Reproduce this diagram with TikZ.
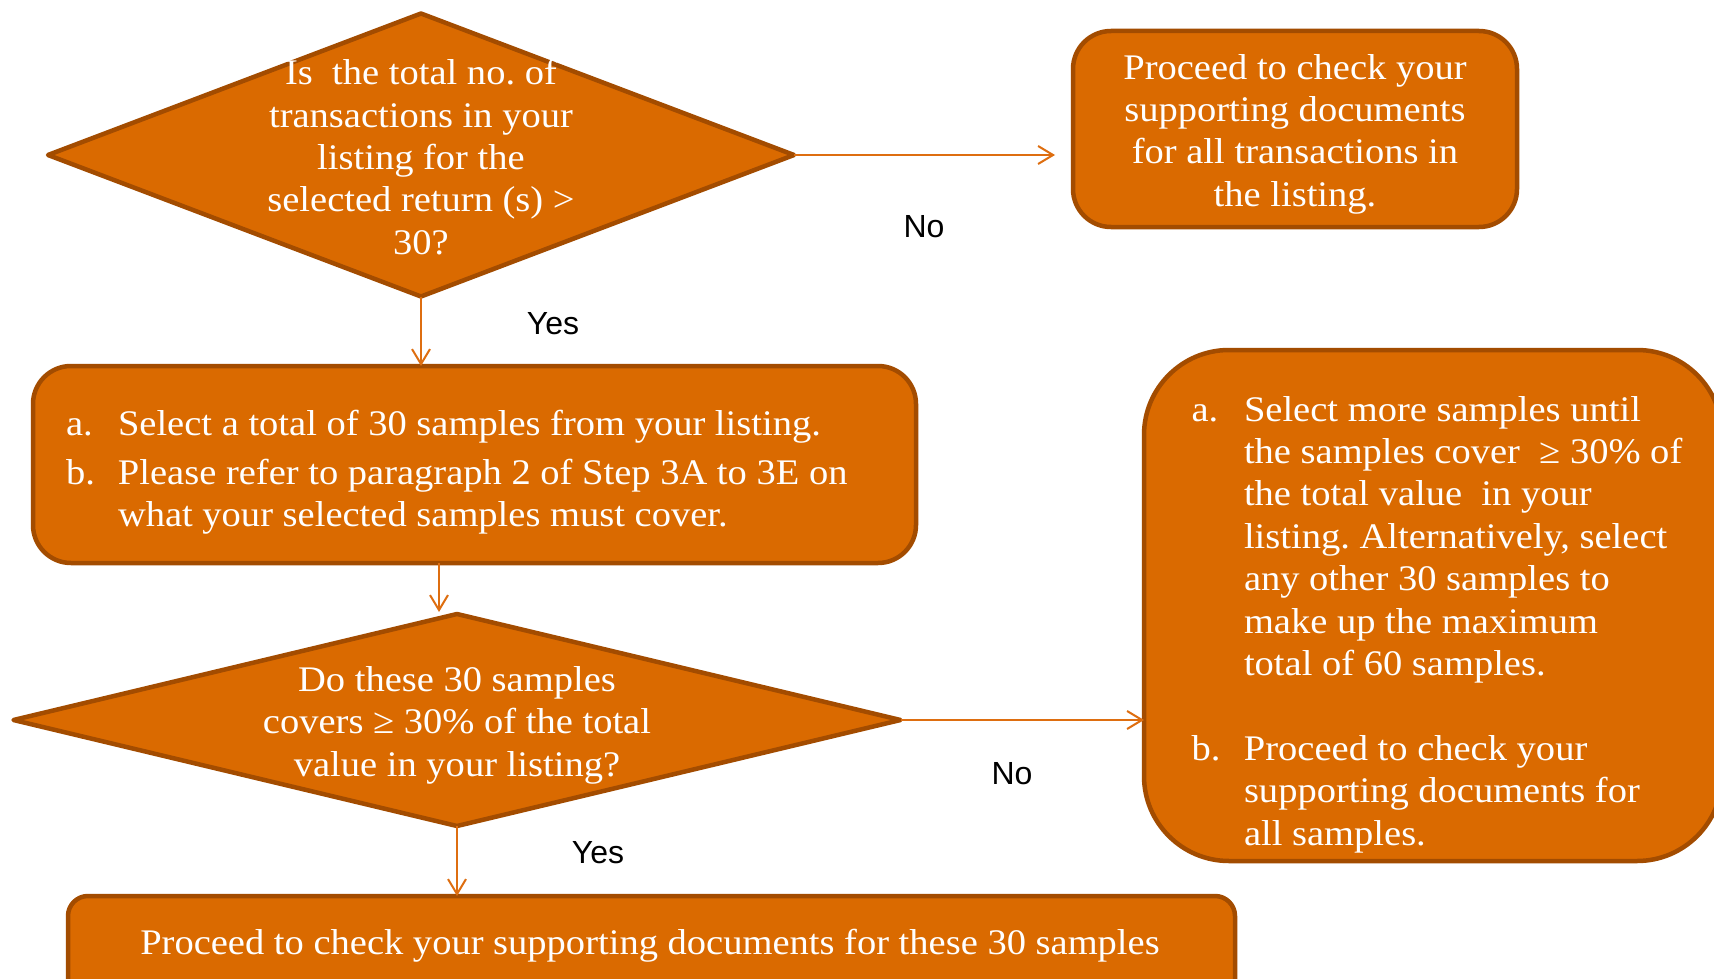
\documentclass[tikz,border=0pt]{standalone}
\usepackage{fontspec}
\setmainfont[FakeStretch=1.07]{Liberation Serif}
\newfontfamily\labelfont{Liberation Sans}
\usetikzlibrary{shapes.geometric,arrows.meta}
\definecolor{boxfill}{RGB}{218,106,0}
\definecolor{boxline}{RGB}{163,76,0}
\definecolor{flow}{RGB}{222,110,16}
\frenchspacing
\begin{document}
\begin{tikzpicture}[x=1pt,y=-1pt,
  every node/.style={inner sep=0pt,outer sep=0pt},
  bodytext/.style={text=white,font=\fontsize{36}{42.4}\selectfont},
  decision/.style={diamond,draw=boxline,fill=boxfill,line width=4.5pt,line join=round},
  stepbox/.style={rectangle,draw=boxline,fill=boxfill,line width=4.5pt},
  flowarrow/.style={draw=flow,line width=2pt,-{Straight Barb[length=15pt,width=18pt,line width=2pt]}},
  answer/.style={font=\labelfont\fontsize{32}{38}\selectfont,text=black}]
\useasboundingbox (0,0) rectangle (1714,979);
\fill[white] (0,0) rectangle (1714,979);
\begin{scope}
\clip (0,0) rectangle (1714,979);

% first decision
\node[decision,minimum width=746pt,minimum height=283pt] (d1) at (421,155) {};
\node[bodytext,align=center] (d1text) at (421,157)
  {Is\ \ the total no. of\\transactions in your\\listing for the\\selected return (s) >\\30?};

% everything listed gets checked
\node[stepbox,rounded corners=38pt,minimum width=444pt,minimum height=196pt] (done) at (1295,129) {};
\node[bodytext,align=center] (donetext) at (1295,134)
  {Proceed to check your\\supporting documents\\for all transactions in\\the listing.};

% sample selection
\node[stepbox,rounded corners=38pt,minimum width=883pt,minimum height=197pt] (sel) at (474.5,464.5) {};
\node[bodytext,anchor=base west] (seltext) at (66,435.5)
  {\begin{tabular}[t]{@{}p{52pt}@{}l@{}}
   a. & Select a total of 30 samples from your listing.\\[6.5pt]
   b. & Please refer to paragraph 2 of Step 3A to 3E on\\
      & what your selected samples must cover.
   \end{tabular}};

% second decision
\node[decision,minimum width=887pt,minimum height=212pt] (d2) at (457,720) {};
\node[bodytext,align=center] (d2text) at (457,725)
  {Do these 30 samples\\covers ≥ 30\% of the total\\value in your listing?};

% more samples
\node[stepbox,rounded corners=85pt,minimum width=578pt,minimum height=511pt] (more) at (1433,605.5) {};
\node[bodytext,anchor=base west] (moretext) at (1191.5,421)
  {\begin{tabular}[t]{@{}p{52.5pt}@{}l@{}}
   a. & Select more samples until\\
      & the samples cover\ \ ≥ 30\% of\\
      & the total value\ \ in your\\
      & listing. Alternatively, select\\
      & any other 30 samples to\\
      & make up the maximum\\
      & total of 60 samples.\\
      & \\
   b. & Proceed to check your\\
      & supporting documents for\\
      & all samples.
   \end{tabular}};

% final step
\node[stepbox,rounded corners=20pt,minimum width=1167pt,minimum height=104pt] (last) at (651.5,948) {};
\node[bodytext,anchor=base] (lasttext) at (650,954)
  {Proceed to check your supporting documents for these 30 samples};

% connectors
\draw[flowarrow,shorten >=18pt] (d1.east) -- (d1.east -| done.west);
\draw[flowarrow] (d1.south) -- (d1.south |- sel.north);
\draw[flowarrow,shorten >=2pt] ([xshift=-35.5pt]sel.south) -- ([xshift=-35.5pt]sel.south |- d2.north);
\draw[flowarrow] (d2.east) -- (d2.east -| more.west);
\draw[flowarrow] (d2.south) -- (d2.south |- last.north);

% answers
\node[answer] (no1) at (924,227) {No};
\node[answer] (yes1) at (553,324) {Yes};
\node[answer] (no2) at (1012,774) {No};
\node[answer] (yes2) at (598,853) {Yes};
\end{scope}
\end{tikzpicture}
\end{document}
